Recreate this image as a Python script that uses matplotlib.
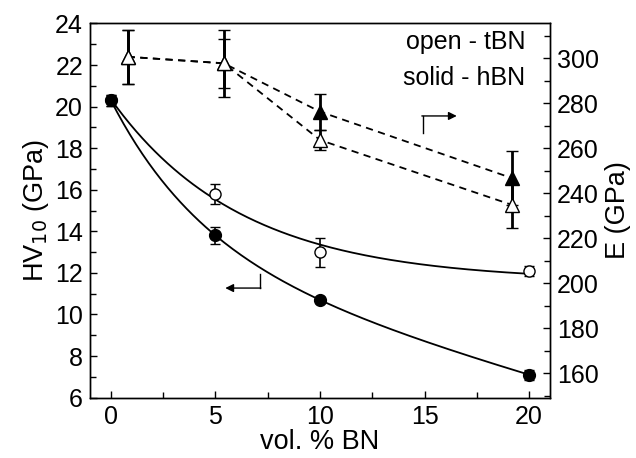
import numpy as np
import matplotlib
matplotlib.use('Agg')
import matplotlib.pyplot as plt
from matplotlib.ticker import MultipleLocator

plt.rcParams['font.family'] = ['Liberation Sans', 'DejaVu Sans']
plt.rcParams['font.size'] = 18

# Keménység (bal tengely)
bn = [0, 5, 10, 20]
hv_hbn = [20.3, 13.8, 10.7, 7.1]
hv_hbn_err = [0.25, 0.4, 0.15, 0.25]
hv_tbn = [20.3, 15.8, 13.0, 12.1]
hv_tbn_err = [0.25, 0.5, 0.7, 0.25]

# Rugalmassági modulus (jobb tengely)
bn_e = [0.8, 5.4, 10.0, 19.2]
e_hbn = [300.7, 297.8, 276.3, 246.7]
e_hbn_err = [12, 11, 8, 12]
e_tbn = [300.7, 297.8, 263.7, 234.8]
e_tbn_err = [12, 15, 4.5, 10]


def exp_fit(x, y, linear=False):
    # a + b*exp(-x/t) (+ c*x) illesztés, t rácskereséssel
    x = np.asarray(x, float)
    y = np.asarray(y, float)
    best = None
    for t in np.linspace(0.5, 40, 800):
        cols = [np.ones_like(x), np.exp(-x / t)] + ([x] if linear else [])
        A = np.column_stack(cols)
        coef = np.linalg.lstsq(A, y, rcond=None)[0]
        err = np.sum((A @ coef - y) ** 2)
        if best is None or err < best[0]:
            best = (err, t, coef)
    _, t, coef = best
    xs = np.linspace(x.min(), x.max(), 200)
    cols = [np.ones_like(xs), np.exp(-xs / t)] + ([xs] if linear else [])
    return xs, np.column_stack(cols) @ coef


fig = plt.figure(figsize=(6.36, 4.58), dpi=100)
ax = fig.add_axes([0.1415, 0.1319, 0.7233, 0.8168])
ax2 = ax.twinx()

# illesztett görbék
xs, ys = exp_fit(bn, hv_hbn, linear=True)
ax.plot(xs, ys, color='black', lw=1.3)
xs, ys = exp_fit(bn, hv_tbn)
ax.plot(xs, ys, color='black', lw=1.3)

ax.errorbar(bn, hv_tbn, yerr=hv_tbn_err, fmt='o', mfc='white', mec='black',
            ms=8, mew=1.0, ecolor='black', elinewidth=1.2, capsize=3.5, capthick=1.2, zorder=3)
ax.errorbar(bn, hv_hbn, yerr=hv_hbn_err, fmt='o', mfc='black', mec='black',
            ms=8.5, mew=1.0, ecolor='black', elinewidth=1.2, capsize=3.5, capthick=1.2, zorder=4)

ax2.errorbar(bn_e, e_hbn, yerr=e_hbn_err, fmt='^', ls=(0, (4, 3)), color='black', mfc='black',
             ms=9.5, mew=1.0, elinewidth=2.0, capsize=4, capthick=1.6, lw=1.3, zorder=2)
ax2.errorbar(bn_e, e_tbn, yerr=e_tbn_err, fmt='^', ls=(0, (4, 3)), color='black', mfc='white',
             ms=9.5, mew=1.0, elinewidth=2.0, capsize=4, capthick=1.6, lw=1.3, zorder=3)

ax.set_xlim(-1, 21)
ax.set_ylim(6, 24)
ax2.set_ylim(149.2, 315.5)

ax.xaxis.set_major_locator(MultipleLocator(5))
ax.xaxis.set_minor_locator(MultipleLocator(2.5))
ax.yaxis.set_major_locator(MultipleLocator(2))
ax.yaxis.set_minor_locator(MultipleLocator(1))
ax2.yaxis.set_major_locator(MultipleLocator(20))
ax2.yaxis.set_minor_locator(MultipleLocator(10))

for a in (ax, ax2):
    a.tick_params(which='both', direction='in', top=False, width=1.0, pad=5)
    a.tick_params(which='major', length=5)
    a.tick_params(which='minor', length=4)
    for s in a.spines.values():
        s.set_linewidth(1.0)
ax2.set_zorder(ax.get_zorder() + 1)
ax2.patch.set_visible(False)

ax.set_xlabel('vol. % BN', fontsize=19.5, labelpad=0)
ax.set_ylabel('HV$_{10}$ (GPa)', fontsize=19.5, labelpad=3)
ax2.set_ylabel('E (GPa)', fontsize=19.5, labelpad=4)

ax.text(0.946, 0.950, 'open - tBN', transform=ax.transAxes, ha='right', va='center', fontsize=18)
ax.text(0.946, 0.853, 'solid - hBN', transform=ax.transAxes, ha='right', va='center', fontsize=18)

# nyilak
ax.plot([7.12, 7.12], [11.96, 11.27], color='black', lw=1.0)
ax.annotate('', xy=(5.47, 11.27), xytext=(7.17, 11.27),
            arrowprops=dict(arrowstyle='-|>', color='black', lw=1.0, mutation_scale=12,
                            shrinkA=0, shrinkB=0))
ax2.plot([14.92, 14.92], [266.7, 274.4], color='black', lw=1.0)
ax2.annotate('', xy=(16.54, 274.4), xytext=(14.87, 274.4),
             arrowprops=dict(arrowstyle='-|>', color='black', lw=1.0, mutation_scale=12,
                             shrinkA=0, shrinkB=0))

fig.savefig('out.png', dpi=100)
